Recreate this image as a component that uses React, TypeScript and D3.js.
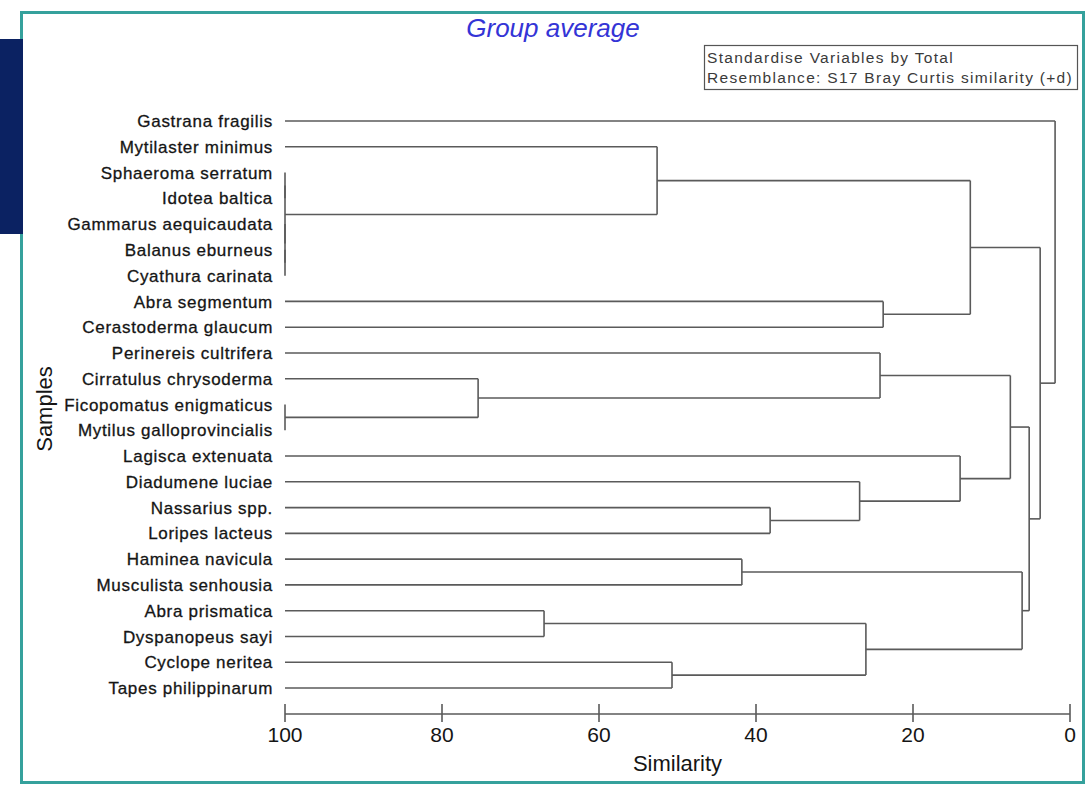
import React from "react";
import * as d3 from "d3";

const title = "Group average";
const legendLines = ["Standardise Variables by Total", "Resemblance: S17 Bray Curtis similarity (+d)"];
const xTitle = "Similarity";
const yTitle = "Samples";

const leaves = [
  "Gastrana fragilis",
  "Mytilaster minimus",
  "Sphaeroma serratum",
  "Idotea baltica",
  "Gammarus aequicaudata",
  "Balanus eburneus",
  "Cyathura carinata",
  "Abra segmentum",
  "Cerastoderma glaucum",
  "Perinereis cultrifera",
  "Cirratulus chrysoderma",
  "Ficopomatus enigmaticus",
  "Mytilus galloprovincialis",
  "Lagisca extenuata",
  "Diadumene luciae",
  "Nassarius spp.",
  "Loripes lacteus",
  "Haminea navicula",
  "Musculista senhousia",
  "Abra prismatica",
  "Dyspanopeus sayi",
  "Cyclope neritea",
  "Tapes philippinarum",
];

// linkage: [nodeA, nodeB, similarity]; leaves are 0..22, merge k gets id 23+k
const mergeA = [5, 4, 2, 25, 1, 7, 27, 11, 10, 9, 15, 14, 13, 32, 17, 19, 21, 38, 37, 36, 29, 0];
const mergeB = [6, 23, 3, 24, 26, 8, 28, 12, 30, 31, 16, 33, 34, 35, 18, 20, 22, 39, 40, 41, 42, 43];
const mergeSim = [100, 100, 100, 100, 52.6, 23.8, 12.7, 100, 75.4, 24.2, 38.2, 26.8, 14.0, 7.6, 41.8, 67.0, 50.7, 26.0, 6.1, 5.2, 3.8, 1.9];

const ticks = [100, 80, 60, 40, 20, 0];

export default function App() {
  const W = 1092, H = 786;
  const x = d3.scaleLinear().domain([100, 0]).range([285, 1070]);
  const y = d3.scalePoint<number>().domain(d3.range(leaves.length)).range([121, 688]);

  const nodeX: number[] = leaves.map(() => x(100));
  const nodeY: number[] = leaves.map((_, i) => y(i) as number);
  const segs: { x1: number; y1: number; x2: number; y2: number }[] = [];
  mergeA.forEach((a, k) => {
    const b = mergeB[k];
    const mx = x(mergeSim[k]);
    const my = (nodeY[a] + nodeY[b]) / 2;
    segs.push({ x1: nodeX[a], y1: nodeY[a], x2: mx, y2: nodeY[a] });
    segs.push({ x1: nodeX[b], y1: nodeY[b], x2: mx, y2: nodeY[b] });
    segs.push({ x1: mx, y1: nodeY[a], x2: mx, y2: nodeY[b] });
    nodeX.push(mx);
    nodeY.push(my);
  });
  const lineColor = "#5a5a5a";
  const axisY = 714;
  const font = "'Liberation Sans', Arial, sans-serif";

  return (
    <svg width={W} height={H} style={{ position: "fixed", left: 0, top: 0, background: "#fff" }} fontFamily={font}>
      <rect x={0} y={0} width={W} height={H} fill="#fff" />
      <rect x={21.5} y={12.5} width={1062} height={770} fill="none" stroke="#35a19c" strokeWidth={3} />
      <rect x={0} y={39} width={23} height={195} fill="#0b2262" />

      <text x={553} y={37} textAnchor="middle" fontSize={26} fontStyle="italic" fill="#3434d6">{title}</text>

      <rect x={704.5} y={45.5} width={373} height={44} fill="none" stroke="#555" strokeWidth={1.2} />
      {legendLines.map((t, i) => (
        <text key={i} x={707} y={63 + i * 20} fontSize={15.5} letterSpacing={1.3} fill="#3a3a3a">{t}</text>
      ))}

      <g stroke={lineColor} strokeWidth={1.6} fill="none">
        {segs.filter(s => Math.abs(s.x2 - s.x1) + Math.abs(s.y2 - s.y1) > 0.1).map((s, i) => (
          <line key={i} x1={s.x1} y1={s.y1} x2={s.x2} y2={s.y2} />
        ))}
      </g>

      {leaves.map((name, i) => (
        <text key={name} x={273} y={(y(i) as number)} dy="0.36em" textAnchor="end" fontSize={17} letterSpacing={0.7}
          fill="#151515" stroke="#151515" strokeWidth={0.3}>{name}</text>
      ))}

      <text transform={`translate(52,409) rotate(-90)`} textAnchor="middle" fontSize={22} fill="#151515">{yTitle}</text>

      <g stroke={lineColor} strokeWidth={1.6}>
        <line x1={x(100)} x2={x(0)} y1={axisY} y2={axisY} />
        {ticks.map(t => (
          <line key={t} x1={x(t)} x2={x(t)} y1={axisY - 10} y2={axisY + 8} />
        ))}
      </g>
      {ticks.map(t => (
        <text key={t} x={x(t)} y={742} textAnchor="middle" fontSize={21} fill="#151515">{t}</text>
      ))}
      <text x={x(50)} y={771} textAnchor="middle" fontSize={22} fill="#151515">{xTitle}</text>
    </svg>
  );
}
